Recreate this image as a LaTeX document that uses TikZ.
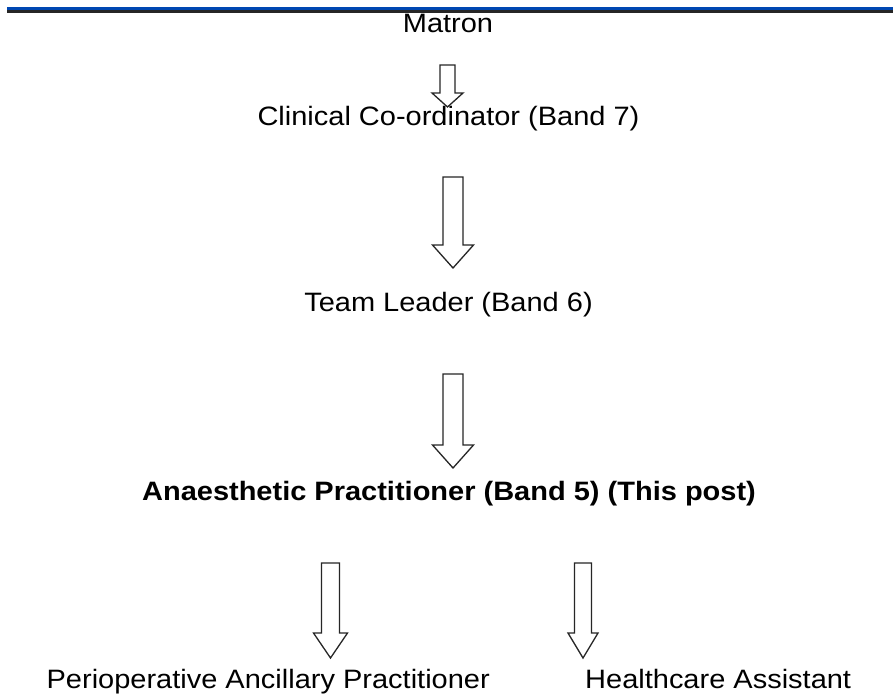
\documentclass[tikz,border=0pt]{standalone}
\usepackage{fontspec}
\setmainfont{Liberation Sans}
\usepackage{graphicx}
\newcommand{\lbl}[1]{\scalebox{1.09}[1]{\fontsize{26.6}{30}\selectfont #1}}
% \barrow{cx}{top}{shafthalf}{headbase}{headhalf}{tip}
\newcommand{\barrow}[6]{%
  \draw[blockarrow] (#1-#3,#2) -- (#1+#3,#2) -- (#1+#3,#4) -- (#1+#5,#4)
    -- (#1,#6) -- (#1-#5,#4) -- (#1-#3,#4) -- cycle;}
\begin{document}
\begin{tikzpicture}[x=1pt,y=-1pt,
  lab/.style={anchor=base,inner sep=0pt,text=black},
  blockarrow/.style={draw=black!85,line width=1.3pt,fill=white,line join=miter}]
\useasboundingbox (0,0) rectangle (893,698);
\fill[white] (0,0) rectangle (893,698);
% labels
\node[lab] (matron) at (448,33) {\lbl{Matron}};
\node[lab] (clin) at (448.5,125) {\lbl{Clinical Co-ordinator (Band 7)}};
\node[lab] (team) at (448.5,311) {\lbl{Team Leader (Band 6)}};
\node[lab] (anae) at (449,500) {\lbl{\bfseries Anaesthetic Practitioner (Band 5) (This post)}};
\node[lab,anchor=base east] (peri) at (490,688) {\lbl{Perioperative Ancillary Practitioner}};
\node[lab,anchor=base west] (hca) at (585,688) {\lbl{Healthcare Assistant}};
% top rule (drawn over the top of "Matron")
\fill[black!85] (7,10) rectangle (893,13.5);
\fill[blue!60!cyan!70!black] (7,7) rectangle (893,10.5);
% block arrows
\barrow{447.5}{65}{7.5}{93}{15.5}{107}
\barrow{453}{177}{10}{245}{20.5}{268}
\barrow{453}{374}{10}{445}{20.5}{468}
\barrow{330.5}{563}{9}{633}{17}{658}
\barrow{583}{563}{8.5}{633}{15}{658}
\end{tikzpicture}
\end{document}
